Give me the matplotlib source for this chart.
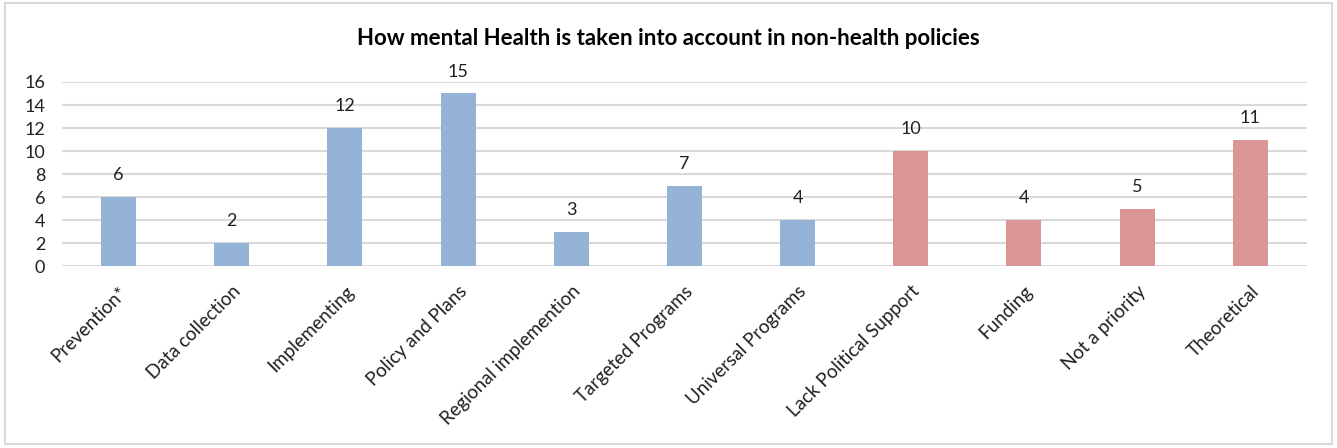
import matplotlib.pyplot as plt
from matplotlib.patches import Rectangle

categories = ["Prevention*", "Data collection", "Implementing", "Policy and Plans",
              "Regional implemention", "Targeted Programs", "Universal Programs",
              "Lack Political Support", "Funding", "Not a priority", "Theoretical"]
values = [6, 2, 12, 15, 3, 7, 4, 10, 4, 5, 11]
groups = ["blue"] * 7 + ["red"] * 4
yticks = [0, 2, 4, 6, 8, 10, 12, 14, 16]

colors = {"blue": "#95B3D7", "red": "#D99694"}

plt.rcParams['font.family'] = ['Lato', 'DejaVu Sans']

fig = plt.figure(figsize=(13.37, 4.48), dpi=100)
fig.patches.append(Rectangle((0.004, 0.008), 0.992, 0.985, transform=fig.transFigure,
                             fill=False, edgecolor="#D9D9D9", linewidth=1.5))
ax = fig.add_axes([0.0464, 0.406, 0.931, 0.411])

x = list(range(len(categories)))
ax.bar(x, values, width=0.31, color=[colors[g] for g in groups], zorder=3)
for xi, v in zip(x, values):
    ax.annotate(str(v), (xi, v), xytext=(0, 10), textcoords="offset points",
                ha="center", va="bottom", fontsize=13, color="#202020")

ax.set_xlim(-0.5, len(categories) - 0.5)
ax.set_ylim(0, 16)
ax.set_yticks(yticks)
ax.grid(axis="y", color="#D9D9D9", linewidth=1.5, zorder=0)
ax.set_axisbelow(True)
for s in ax.spines.values():
    s.set_visible(False)
ax.tick_params(axis="both", length=0, labelsize=13, colors="#202020")
ax.tick_params(axis="y", pad=12)
ax.tick_params(axis="x", pad=12)
ax.set_xticks(x)
ax.set_xticklabels(categories, rotation=45, ha="right", rotation_mode="anchor",
                   fontsize=13.5)

fig.text(0.5, 0.915, "How mental Health is taken into account in non-health policies",
         ha="center", va="center", fontsize=16, fontweight="bold", color="#000000")

fig.savefig("out.png", dpi=100)
